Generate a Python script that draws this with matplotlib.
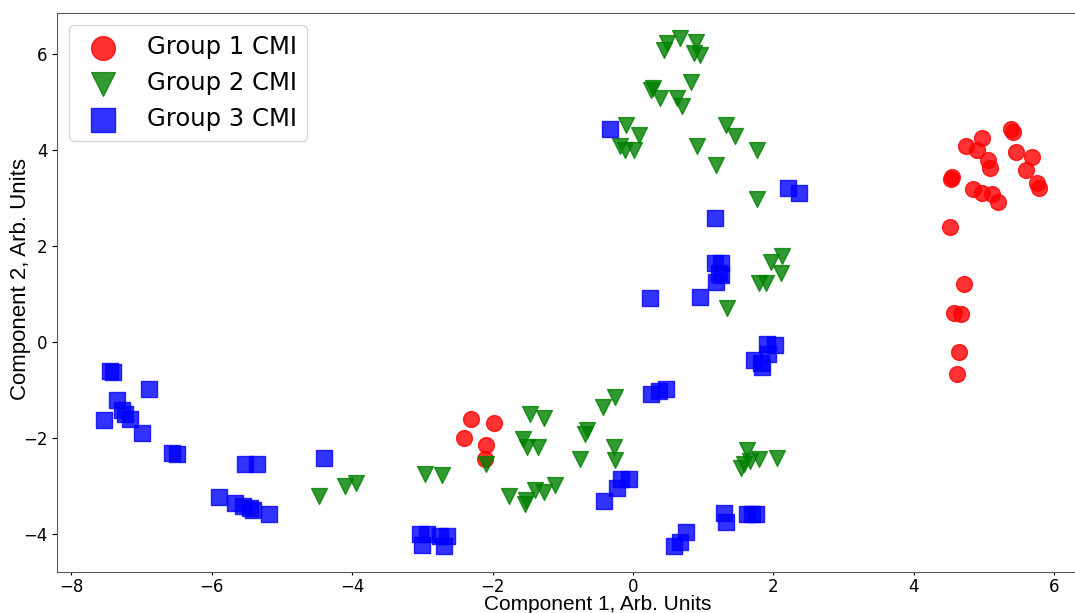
import matplotlib
matplotlib.use("Agg")
import matplotlib.pyplot as plt

# Group 1 CMI (red circles)
g1_x = [5.39, 5.41, 4.97, 4.75, 4.90, 5.45, 5.68, 5.06, 5.09, 5.60, 4.55, 4.53,
        5.75, 5.78, 4.84, 4.97, 5.12, 5.20, 4.52, 4.71, 4.57, 4.68, 4.64, 4.61,
        -2.30, -1.98, -2.41, -2.09, -2.11]
g1_y = [4.43, 4.38, 4.24, 4.08, 4.00, 3.96, 3.86, 3.78, 3.62, 3.58, 3.43, 3.39,
        3.32, 3.20, 3.18, 3.11, 3.08, 2.92, 2.40, 1.22, 0.60, 0.58, -0.20, -0.67,
        -1.59, -1.68, -1.99, -2.13, -2.44]

# Group 2 CMI (green triangles)
g2_x = [0.67, 0.48, 0.44, 0.90, 0.87, 0.95, 0.82, 0.26, 0.29, 0.38, 0.63, 0.70,
        -0.10, 0.09, -0.19, -0.12, 0.02, 1.33, 1.46, 0.91, 1.77, 1.19, 1.77,
        2.12, 1.97, 2.11, 1.79, 1.89, 1.34,
        -4.47, -4.10, -3.95, -2.96, -2.72, -2.09, -1.47, -1.27, -1.57, -1.51,
        -1.35, -1.76, -1.53, -1.54, -1.39, -1.26, -1.11, -0.76, -0.65, -0.68,
        -0.43, -0.26, -0.27, -0.25,
        1.63, 2.05, 1.79, 1.67, 1.58, 1.54]
g2_y = [6.32, 6.23, 6.08, 6.24, 6.01, 5.98, 5.42, 5.25, 5.28, 5.08, 5.08, 4.92,
        4.52, 4.31, 4.07, 3.99, 3.99, 4.52, 4.28, 4.09, 4.00, 3.69, 2.98,
        1.79, 1.67, 1.44, 1.24, 1.24, 0.71,
        -3.20, -2.99, -2.93, -2.74, -2.77, -2.54, -1.50, -1.57, -2.01, -2.17,
        -2.18, -3.19, -3.28, -3.36, -3.07, -3.12, -2.98, -2.44, -1.83, -1.90,
        -1.35, -1.14, -2.17, -2.46,
        -2.25, -2.40, -2.44, -2.47, -2.53, -2.62]

# Group 3 CMI (blue squares)
g3_x = [-7.45, -7.41, -6.90, -7.35, -7.53, -7.28, -7.24, -7.17, -6.99, -6.57,
        -6.50, -5.53, -5.36, -4.40, -5.90, -5.67, -5.56, -5.46, -5.41, -5.18,
        -3.03, -2.94, -2.75, -2.65, -3.00, -2.69,
        -0.41, -0.23, -0.17, -0.05, 0.26, 0.37, 0.47,
        0.75, 0.67, 0.59, 1.30, 1.33, 1.63, 1.70, 1.76,
        2.21, 2.36, 1.17, 1.17, 1.26, 1.22, 1.25, 1.18, 0.25, 0.96,
        1.91, 2.03, 1.93, 1.73, 1.82, 1.84, -0.33]
g3_y = [-0.59, -0.61, -0.98, -1.20, -1.62, -1.41, -1.49, -1.60, -1.89, -2.30,
        -2.33, -2.53, -2.54, -2.40, -3.23, -3.35, -3.40, -3.45, -3.49, -3.57,
        -3.98, -4.00, -4.03, -4.03, -4.21, -4.23,
        -3.31, -3.03, -2.84, -2.85, -1.07, -1.02, -0.97,
        -3.94, -4.16, -4.23, -3.56, -3.74, -3.57, -3.57, -3.58,
        3.20, 3.10, 2.58, 1.64, 1.65, 1.43, 1.40, 1.26, 0.91, 0.94,
        -0.03, -0.06, -0.24, -0.38, -0.44, -0.51, 4.44]

labels = ["Group 1 CMI", "Group 2 CMI", "Group 3 CMI"]

W, H = 1075, 613
RIGHT = 1120  # axes right edge in pixels, off the picture like the reference
fig = plt.figure(figsize=(W / 100, H / 100), dpi=100)
ax = fig.add_axes([57.3 / W, (H - 572) / H, (RIGHT - 57.3) / W, (572 - 13.3) / H])
ax.spines["right"].set_visible(False)

ax.scatter(g1_x, g1_y, s=130, marker="o", color="red", alpha=0.8, label=labels[0])
ax.scatter(g2_x, g2_y, s=130, marker="v", color="green", alpha=0.8, label=labels[1])
ax.scatter(g3_x, g3_y, s=130, marker="s", color="blue", alpha=0.8, label=labels[2])

ax.set_xlim(-8.20, -8.20 + (RIGHT - 57.3) / 70.2)
ax.set_ylim(-4.78, 6.84)
ax.set_xticks([-8, -6, -4, -2, 0, 2, 4, 6])
ax.set_yticks([-4, -2, 0, 2, 4, 6])
ax.tick_params(labelsize=12)
ax.tick_params(axis="x", length=2.5, pad=2)

lab_font = ["Liberation Sans", "DejaVu Sans"]
ax.set_xlabel("Component 1, Arb. Units", fontsize=15, family=lab_font)
ax.set_ylabel("Component 2, Arb. Units", fontsize=16, family=lab_font)
# label positions as in the (cropped) reference figure
ax.xaxis.set_label_coords((598 - 57.3) / (RIGHT - 57.3), -0.0405)
ax.yaxis.set_label_coords(-0.0245, 0.524)

for sp in ax.spines.values():
    sp.set_color("0.35")

ax.legend(loc="upper left", fontsize=17.5, markerscale=1.5)

fig.savefig("out.png", dpi=100)
